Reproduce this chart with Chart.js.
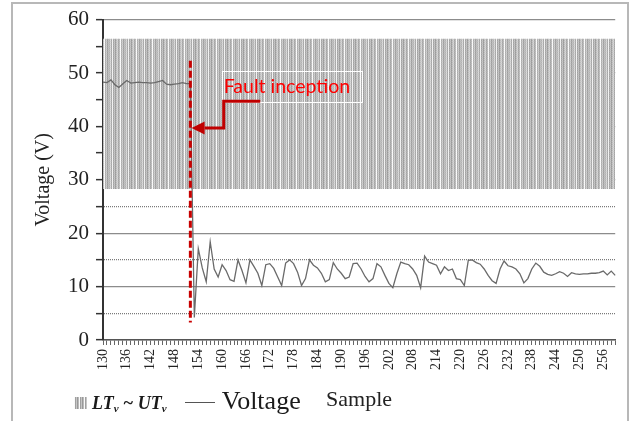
<!DOCTYPE html>
<html>
<head>
<meta charset="utf-8">
<script src="https://cdn.jsdelivr.net/npm/chart.js@4.4.0/dist/chart.umd.min.js"></script>
<style>
  body { margin: 0; background: #fff; }
  #wrap { position: relative; width: 636px; height: 421px; overflow: hidden; }
  #c { position: absolute; left: 0; top: 0; }
  #frame { position: absolute; left: 11px; top: 2px; width: 618px; height: 440px; border: 2px solid #b8b8b8; box-sizing: border-box; pointer-events: none; }
  #legend { position: absolute; left: 74px; top: 386px; display: flex; align-items: baseline; line-height: 1; color: #1a1a1a; }
  .swatch { display: inline-block; width: 13px; height: 12px;
    background: repeating-linear-gradient(90deg, #fafafa 0 1px, #a0a0a0 1px 2px, #c6c6c6 2px 3px, #999 3px 4px, #bbb 4px 5px); }
  .lt { margin-left: 5px; font: italic bold 18px "Liberation Serif", serif; }
  .lt sub { font-size: 11px; vertical-align: -3px; }
  .dash { display: inline-block; width: 30px; height: 1.5px; background: #555; margin-left: 18px; position: relative; top: -6px; }
  .volt { margin-left: 7px; font: 26px "Liberation Serif", serif; }
</style>
</head>
<body>
<div id="wrap">
  <canvas id="c" width="636" height="421"></canvas>
  <div id="frame"></div>
  <div id="legend">
    <span class="swatch"></span>
    <span class="lt">LT<sub>v</sub> ~ UT<sub>v</sub></span>
    <span class="dash"></span>
    <span class="volt">Voltage</span>
  </div>
</div>
<script>
// sample numbers on the x axis (130 .. 259)
let samples = [];
for (let s = 130; s <= 259; s++) samples.push(s);

// labels shown under the axis
const tickLabels = [130, 136, 142, 148, 154, 160, 166, 172, 178, 184, 190, 196, 202, 208, 214, 220, 226, 232, 238, 244, 250, 256];
// y ticks (labels on the tens, dotted lines on the fives)
const yTicks = [0, 5, 10, 15, 20, 25, 30, 35, 40, 45, 50, 55, 60];

// measured voltage, one value per sample
const voltage = [
  48.3, 48.2, 48.7, 47.8, 47.3, 48.0, 48.6, 48.1, 48.2, 48.3, 48.2, 48.2, 48.1, 48.2, 48.4, 48.6, 47.9, 47.8, 47.9, 48.0, 48.2, 48.0, 48.0,
  4.2, 17.1, 13.5, 10.9, 18.4, 13.3, 11.8, 14.1, 13.0, 11.3, 11.0, 15.0, 13.0, 10.7, 15.0, 13.8, 12.5, 10.2, 14.1, 14.3, 13.4, 11.8,
  10.2, 14.4, 15.0, 14.3, 12.7, 10.2, 11.5, 15.0, 14.0, 13.5, 12.5, 10.9, 11.3, 14.5,
  13.3, 12.5, 11.5, 11.8, 14.3, 14.4, 13.3, 11.9, 10.9, 11.5, 14.3, 13.7, 12.1, 10.6, 9.8, 12.4, 14.6, 14.3, 14.1, 13.3, 12.1,
  9.8, 15.7, 14.6, 14.3, 14.0, 12.4, 13.7, 13.0, 13.3, 11.5, 11.3, 10.2, 14.9, 15.0,
  14.5, 14.2, 13.3, 12.1, 11.1, 10.6, 13.3, 14.8, 13.9, 13.7, 13.3, 12.4, 10.7, 11.5, 13.3, 14.4, 13.8, 12.7,
  12.3, 12.1, 12.4, 12.8, 12.5, 11.9, 12.6, 12.4, 12.3, 12.4, 12.4, 12.5, 12.5, 12.6, 12.9, 12.2, 12.9, 12.1
];

// threshold band LT_v ~ UT_v
const lowerT = 28.3;
const upperT = 56.4;
const ltLine = samples.map(() => lowerT);
const utLine = samples.map(() => upperT);

// fault inception marker
const faultSample = 152;
const faultRange = [52.3, 3.3];

// annotation anchors in (sample, volts)
const noteBox = [159.9, 50.3, 195.3, 44.5];
const noteText = [160.4, 46.2];
const arrowPath = [[169.6, 44.7], [160.4, 44.7], [160.4, 39.7], [155.6, 39.7]];
const arrowTip = [152.3, 39.7];

function makePattern() {
  const cv = document.createElement('canvas');
  cv.width = 16; cv.height = 2;
  const g = cv.getContext('2d');
  const rowA = ['#f4f4f4', '#a2a2a2', '#c8c8c8', '#9a9a9a', '#bcbcbc', '#d8d8d8', '#a4a4a4', '#c2c2c2',
                '#fdfdfd', '#acacac', '#d2d2d2', '#9e9e9e', '#c4c4c4', '#b2b2b2', '#dcdcdc', '#a6a6a6'];
  const rowB = ['#eeeeee', '#b0b0b0', '#bcbcbc', '#a6a6a6', '#cacaca', '#cccccc', '#b0b0b0', '#b8b8b8',
                '#f6f6f6', '#b8b8b8', '#c6c6c6', '#aaaaaa', '#bababa', '#c0c0c0', '#d0d0d0', '#b0b0b0'];
  rowA.forEach((c, i) => { g.fillStyle = c; g.fillRect(i, 0, 1, 1); });
  rowB.forEach((c, i) => { g.fillStyle = c; g.fillRect(i, 1, 1, 1); });
  return g.createPattern(cv, 'repeat');
}
function makeDots() {
  const cv = document.createElement('canvas');
  cv.width = 2; cv.height = 1;
  const g = cv.getContext('2d');
  g.fillStyle = '#7a7a7a';
  g.fillRect(0, 0, 1, 1);
  return g.createPattern(cv, 'repeat');
}
const bandPattern = makePattern();
const dotPattern = makeDots();

const faultNote = {
  id: 'faultNote',
  afterDatasetsDraw(chart) {
    const ctx = chart.ctx;
    const x = chart.scales.x, y = chart.scales.y;
    const px = s => x.getPixelForValue(s - samples[0]);
    const py = v => y.getPixelForValue(v);
    ctx.save();
    // white box
    ctx.strokeStyle = '#ffffff';
    ctx.lineWidth = 1;
    const x1 = Math.round(px(noteBox[0])) + 0.5, y1 = Math.round(py(noteBox[1])) + 0.5;
    const x2 = Math.round(px(noteBox[2])) + 0.5, y2 = Math.round(py(noteBox[3])) + 0.5;
    ctx.strokeRect(x1, y1, x2 - x1, y2 - y1);
    // text
    ctx.fillStyle = '#ff0000';
    ctx.font = '19.5px Lato';
    ctx.textBaseline = 'alphabetic';
    ctx.fillText('Fault inception', px(noteText[0]), py(noteText[1]));
    // arrow
    ctx.strokeStyle = '#c00000';
    ctx.fillStyle = '#c00000';
    ctx.lineWidth = 3;
    ctx.lineJoin = 'miter';
    ctx.beginPath();
    arrowPath.forEach((p, i) => {
      if (i === 0) ctx.moveTo(px(p[0]), py(p[1]));
      else ctx.lineTo(px(p[0]), py(p[1]));
    });
    ctx.stroke();
    const last = arrowPath[arrowPath.length - 1];
    ctx.beginPath();
    ctx.moveTo(px(arrowTip[0]), py(arrowTip[1]));
    ctx.lineTo(px(last[0]), py(last[1]) - 6.5);
    ctx.lineTo(px(last[0]), py(last[1]) + 6.5);
    ctx.closePath();
    ctx.fill();
    ctx.restore();
  }
};

new Chart(document.getElementById('c'), {
  type: 'line',
  data: {
    labels: samples,
    datasets: [
      {
        label: 'Fault inception',
        data: [{ x: faultSample, y: faultRange[0] }, { x: faultSample, y: faultRange[1] }],
        borderColor: '#c80000', borderWidth: 3, borderDash: [7, 3],
        pointRadius: 0, fill: false
      },
      {
        label: 'Voltage',
        data: voltage,
        borderColor: '#6a6a6a', borderWidth: 1.3,
        pointRadius: 0, tension: 0, fill: false
      },
      {
        label: 'LT',
        data: ltLine,
        borderWidth: 0, borderColor: 'rgba(0,0,0,0)', pointRadius: 0, fill: false
      },
      {
        label: 'UT',
        data: utLine,
        borderWidth: 0, borderColor: 'rgba(0,0,0,0)', pointRadius: 0,
        fill: 2, backgroundColor: bandPattern
      }
    ]
  },
  options: {
    responsive: false,
    animation: false,
    devicePixelRatio: 1,
    layout: { padding: { left: 14, top: 18, right: 19, bottom: 0 } },
    plugins: { legend: { display: false }, tooltip: { enabled: false } },
    scales: {
      x: {
        type: 'category',
        offset: false,
        grid: { drawOnChartArea: false, tickLength: 5, tickColor: '#666', tickWidth: 1 },
        border: { color: '#555', width: 1.5 },
        ticks: {
          autoSkip: false, minRotation: 90, maxRotation: 90, padding: 4,
          font: { family: 'Liberation Serif', size: 14 }, color: '#222',
          callback: (v, i) => tickLabels.includes(samples[i]) ? String(samples[i]) : ''
        },
        title: {
          display: true, text: 'Sample', color: '#222',
          font: { family: 'Liberation Serif', size: 22 },
          padding: { top: 0, bottom: 8 }
        },
        afterFit: s => { s.height = 81; }
      },
      y: {
        min: 0, max: 60,
        afterBuildTicks: s => { s.ticks = yTicks.map(v => ({ value: v })); },
        ticks: {
          autoSkip: false, padding: 7, color: '#222',
          font: { family: 'Liberation Serif', size: 21 },
          callback: v => v % 10 === 0 ? v : ''
        },
        grid: {
          color: c => c.tick.value % 10 === 0 ? '#8c8c8c' : dotPattern,
          lineWidth: 1.3, tickLength: 7, tickColor: '#333', tickWidth: 1.5
        },
        border: { color: '#333', width: 2 },
        title: {
          display: true, text: 'Voltage (V)', color: '#222',
          font: { family: 'Liberation Serif', size: 20 },
          padding: { top: 18, bottom: 0 }
        },
        afterFit: s => { s.width = 89; }
      }
    }
  },
  plugins: [faultNote]
});
</script>
</body>
</html>
